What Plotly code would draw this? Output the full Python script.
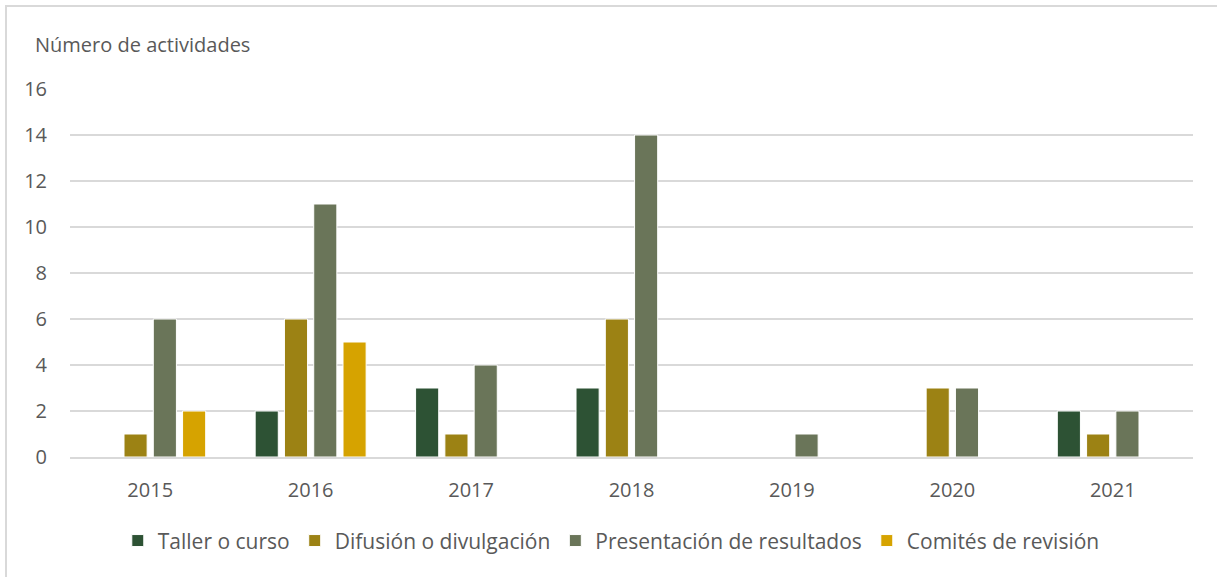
import plotly.graph_objects as go

years = ['2015', '2016', '2017', '2018', '2019', '2020', '2021']
taller = [0, 2, 3, 3, 0, 0, 2]
difusion = [1, 6, 1, 6, 0, 3, 1]
presentacion = [6, 11, 4, 14, 1, 3, 2]
comites = [2, 5, 0, 0, 0, 0, 0]

series = [
    ('Taller o curso', taller, '#2D5234'),
    ('Difusión o divulgación', difusion, '#9C8214'),
    ('Presentación de resultados', presentacion, '#6A7559'),
    ('Comités de revisión', comites, '#D6A300'),
]

txt = '#595959'
fnt = 'Open Sans'

fig = go.Figure()
for name, vals, col in series:
    fig.add_trace(go.Bar(
        x=years,
        y=vals,
        name=name,
        marker=dict(color=col, line=dict(color='white', width=1)),
    ))

fig.update_layout(
    width=1217,
    height=577,
    margin={"l": 70, "r": 24, "t": 89, "b": 120},
    paper_bgcolor='white',
    plot_bgcolor='white',
    barmode='group',
    bargap=0.27,
    bargroupgap=0.21,
    font=dict(family=fnt, color=txt, size=20),
    legend=dict(
        orientation='h',
        x=0.482,
        xanchor='center',
        y=-0.228,
        yanchor='middle',
        font=dict(family=fnt, size=21, color=txt),
        itemwidth=30,
        traceorder='normal',
    ),
    showlegend=True,
)

fig.update_xaxes(showgrid=False, zeroline=False, ticks='',
                 showline=True, linecolor='#D9D9D9', linewidth=1.5,
                 ticklabelstandoff=14,
                 tickfont=dict(family=fnt, size=20, color=txt))
fig.update_yaxes(range=[0, 16], dtick=2, showgrid=True, gridcolor='#D9D9D9', gridwidth=1.5,
                 zeroline=False, ticks='', ticklabelstandoff=22,
                 tickfont=dict(family=fnt, size=20, color=txt))

fig.add_annotation(text='Número de actividades', xref='paper', yref='paper',
                   x=-0.033, y=1.1196, xanchor='left', yanchor='middle',
                   showarrow=False, font=dict(family=fnt, size=20, color=txt))

# chart border (only left and top edges fall inside the picture)
fig.add_shape(type='rect', xref='paper', yref='paper',
              x0=-0.057, y0=-0.5, x1=1.1, y1=1.2255,
              line=dict(color='#D9D9D9', width=2), layer='below')

fig.write_html("out.html", config={'displayModeBar': False},
               post_script="document.body.style.margin='0';")
